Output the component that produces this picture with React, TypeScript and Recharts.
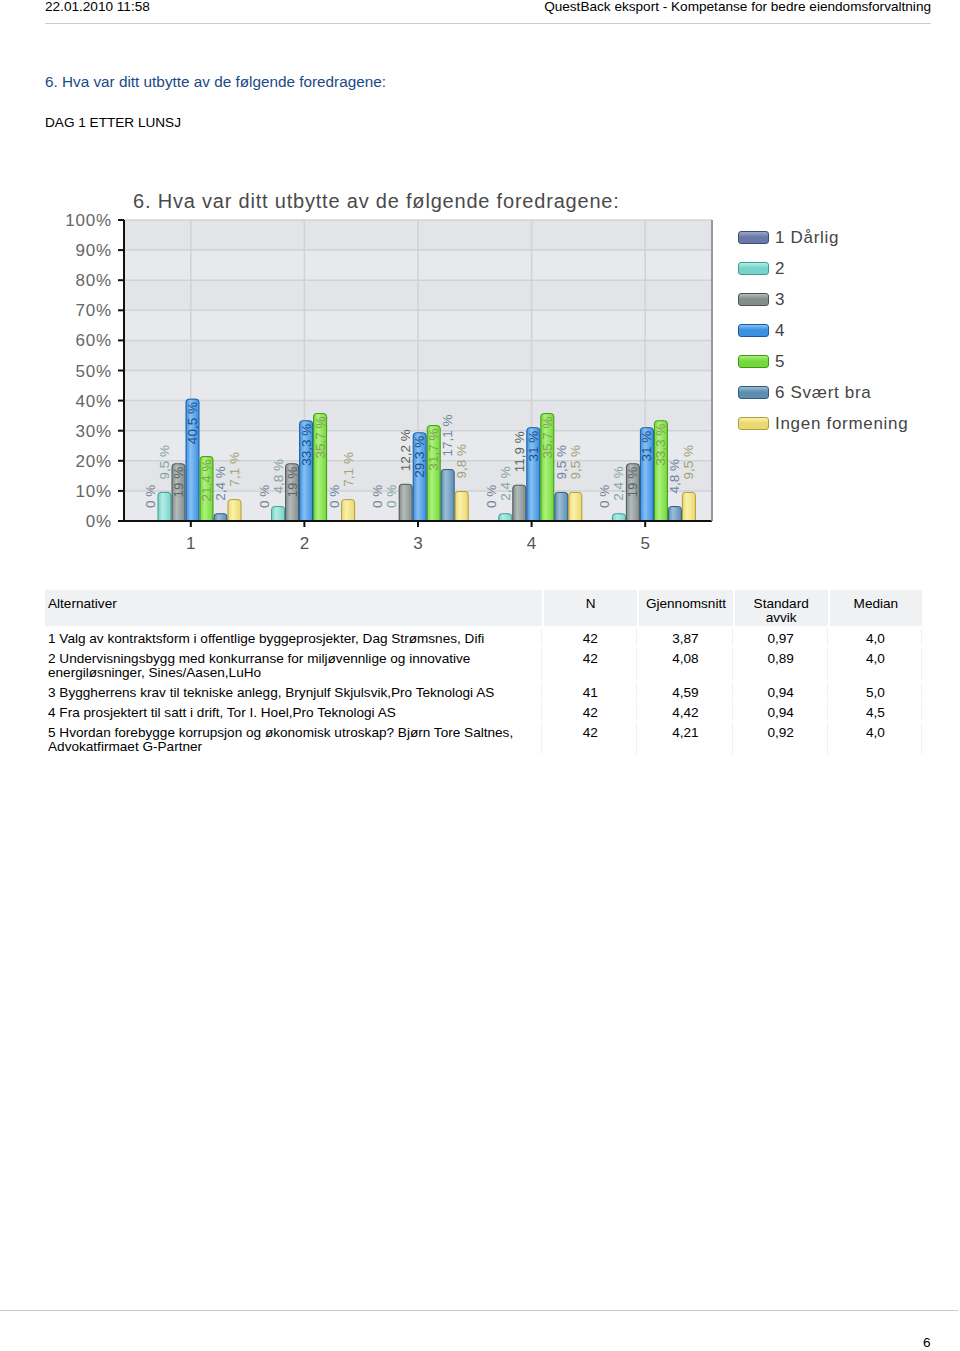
import React from 'react';
import { BarChart, Bar, XAxis, YAxis, CartesianGrid, Legend, LabelList, Rectangle } from 'recharts';

const categories = ['1', '2', '3', '4', '5'];
const seriesNames = ['1 Dårlig', '2', '3', '4', '5', '6 Svært bra', 'Ingen formening'];
const s1 = [0, 0, 0, 0, 0];
const s2 = [9.5, 4.8, 0, 2.4, 2.4];
const s3 = [19, 19, 12.2, 11.9, 19];
const s4 = [40.5, 33.3, 29.3, 31, 31];
const s5 = [21.4, 35.7, 31.7, 35.7, 33.3];
const s6 = [2.4, 0, 17.1, 9.5, 4.8];
const s7 = [7.1, 7.1, 9.8, 9.5, 9.5];
const seriesValues = [s1, s2, s3, s4, s5, s6, s7];
const yTicks = [0, 10, 20, 30, 40, 50, 60, 70, 80, 90, 100];

const altTexts = [
  '1 Valg av kontraktsform i offentlige byggeprosjekter, Dag Strømsnes, Difi',
  '2 Undervisningsbygg med konkurranse for miljøvennlige og innovative\nenergiløsninger, Sines/Aasen,LuHo',
  '3 Byggherrens krav til tekniske anlegg, Brynjulf Skjulsvik,Pro Teknologi AS',
  '4 Fra prosjektert til satt i drift, Tor I. Hoel,Pro Teknologi AS',
  '5 Hvordan forebygge korrupsjon og økonomisk utroskap? Bjørn Tore Saltnes,\nAdvokatfirmaet G-Partner',
];
const nVals = ['42', '42', '41', '42', '42'];
const meanVals = ['3,87', '4,08', '4,59', '4,42', '4,21'];
const sdVals = ['0,97', '0,89', '0,94', '0,94', '0,92'];
const medianVals = ['4,0', '4,0', '5,0', '4,5', '4,0'];

const baseColors = ['#6a79a8', '#78d4ca', '#838d8b', '#3b90e0', '#74d83c', '#5f8db0', '#ecd872'];
const lightColors = ['#9aa6cc', '#b2ece6', '#b4bcba', '#86c0f4', '#acf27a', '#9abed8', '#faf0aa'];
const strokeColors = ['#3f4b72', '#3a9c92', '#4c5452', '#1b5aa6', '#3c9a12', '#2f5b7d', '#b29c32'];
const labelColors = ['#7a8094', '#84a3a1', '#5a6462', '#1e4f88', '#82a05a', '#6a86a0', '#a3a17a'];

const keys = ['s1', 's2', 's3', 's4', 's5', 's6', 's7'];
const data = categories.map((c, i) => {
  const row: any = { name: c };
  keys.forEach((k, j) => {
    row[k] = seriesValues[j][i];
  });
  return row;
});

const FONT = '"Liberation Sans", Arial, Helvetica, sans-serif';

const fmt = (v: number) => {
  const s = Number.isInteger(v) ? String(v) : v.toFixed(1);
  return s.replace('.', ',') + ' %';
};

const makeLabel = (si: number) => (props: any) => {
  const { x, y, width, height, value } = props;
  const v = Number(value);
  const text = fmt(v);
  const L = text.length * 7;
  const cx = Number(x) + Number(width) / 2;
  const h = v === 0 ? 0 : Number(height);
  const inside = h > 1.5 * L;
  const yBase = v === 0 ? Number(y) + Number(height) : Number(y);
  const y0 = inside ? yBase + 3 : yBase - 13;
  return (
    <text
      x={cx}
      y={y0}
      transform={`rotate(-90, ${cx}, ${y0})`}
      textAnchor={inside ? 'end' : 'start'}
      dominantBaseline="central"
      fontSize={13.5}
      fontFamily={FONT}
      fill={labelColors[si]}
    >
      {text}
    </text>
  );
};

const makeShape = (k: string) => (props: any) => {
  if (!props.payload || props.payload[k] === 0) return <g />;
  return <Rectangle {...props} />;
};

const renderLegend = () => (
  <div style={{ fontFamily: FONT }}>
    {seriesNames.map((n, i) => (
      <div key={n} style={{ display: 'flex', alignItems: 'center', height: 31 }}>
        <div
          style={{
            width: 29,
            height: 11,
            borderRadius: 3,
            border: `1px solid ${strokeColors[i]}`,
            background: `linear-gradient(to bottom, ${lightColors[i]}, ${baseColors[i]} 45%, ${baseColors[i]})`,
            marginRight: 6,
          }}
        />
        <span style={{ fontSize: 17, letterSpacing: 0.7, color: '#454545' }}>{n}</span>
      </div>
    ))}
  </div>
);

export default function App() {
  const th: React.CSSProperties = {
    background: '#eff1f3',
    fontWeight: 'normal',
    verticalAlign: 'top',
    padding: '7px 3px 0 3px',
    height: 29,
    lineHeight: '14px',
    textAlign: 'center',
  };
  const td: React.CSSProperties = {
    verticalAlign: 'top',
    padding: '4px 3px 0 3px',
    lineHeight: '14px',
    textAlign: 'center',
    borderRight: '1px solid #f0f1f2',
  };
  return (
    <div style={{ position: 'absolute', left: 0, top: 0, width: 960, height: 1351, background: '#fff', fontFamily: FONT, color: '#000' }}>
      <div style={{ position: 'absolute', left: 45, top: -1, fontSize: 13.6 }}>22.01.2010 11:58</div>
      <div style={{ position: 'absolute', right: 29, top: -1, fontSize: 13.6 }}>QuestBack eksport - Kompetanse for bedre eiendomsforvaltning</div>
      <div style={{ position: 'absolute', left: 45, top: 23, width: 886, height: 1, background: '#cccccc' }} />
      <div style={{ position: 'absolute', left: 45, top: 73, fontSize: 15.3, color: '#1b4a86' }}>6. Hva var ditt utbytte av de følgende foredragene:</div>
      <div style={{ position: 'absolute', left: 45, top: 115, fontSize: 13.6 }}>DAG 1 ETTER LUNSJ</div>

      <div style={{ position: 'absolute', left: 133, top: 190, fontSize: 20, letterSpacing: 0.8, color: '#4a4a4a', whiteSpace: 'nowrap' }}>
        6. Hva var ditt utbytte av de følgende foredragene:
      </div>

      <div style={{ position: 'absolute', left: 0, top: 0 }}>
        <BarChart
          width={960}
          height={570}
          data={data}
          margin={{ top: 220, right: 247, left: 64, bottom: 19 }}
          barCategoryGap={10}
          barGap={1}
        >
          <defs>
            {baseColors.map((c, i) => (
              <linearGradient key={i} id={`g${i}`} x1="0" y1="0" x2="1" y2="0">
                <stop offset="0%" stopColor={baseColors[i]} />
                <stop offset="35%" stopColor={lightColors[i]} />
                <stop offset="100%" stopColor={baseColors[i]} />
              </linearGradient>
            ))}
          </defs>
          <CartesianGrid stroke="#cfd2d6" strokeWidth={1.5} fill="#e5e7ea" horizontalFill={['#e2e4e7', '#e7e9ec']} />
          <XAxis
            dataKey="name"
            padding={{ left: 10, right: 10 }}
            height={30}
            axisLine={{ stroke: '#111', strokeWidth: 2 }}
            tickLine={{ stroke: '#111', strokeWidth: 2 }}
            tickSize={6}
            tickMargin={10}
            tick={{ fontSize: 17, fill: '#555', fontFamily: FONT }}
          />
          <YAxis
            domain={[0, 100]}
            ticks={yTicks}
            width={60}
            interval={0}
            tickFormatter={(v: number) => `${v}%`}
            axisLine={{ stroke: '#111', strokeWidth: 2 }}
            tickLine={{ stroke: '#111', strokeWidth: 2 }}
            tickSize={6}
            tickMargin={6}
            tick={{ fontSize: 17, fill: '#666', fontFamily: FONT, letterSpacing: 0.8 }}
          />
          <YAxis yAxisId="r" orientation="right" width={1} domain={[0, 100]} tick={false} tickLine={false} axisLine={{ stroke: '#9a9a9a', strokeWidth: 2 }} />
          <Legend
            layout="vertical"
            align="center"
            verticalAlign="middle"
            content={renderLegend}
            wrapperStyle={{ left: 738, top: 222, width: 200, height: 220 }}
          />
          {keys.map((k, i) => (
            <Bar
              key={k}
              dataKey={k}
              name={seriesNames[i]}
              fill={`url(#g${i})`}
              stroke={strokeColors[i]}
              strokeWidth={1}
              radius={[3, 3, 0, 0]}
              minPointSize={1}
              shape={makeShape(k)}
              isAnimationActive={false}
            >
              <LabelList dataKey={k} content={makeLabel(i)} />
            </Bar>
          ))}
        </BarChart>
      </div>

      <table
        style={{
          position: 'absolute',
          left: 43,
          top: 588,
          width: 881,
          borderCollapse: 'separate',
          borderSpacing: 2,
          fontSize: 13.6,
          fontFamily: FONT,
          tableLayout: 'fixed',
        }}
      >
        <colgroup>
          <col style={{ width: 496 }} />
          <col style={{ width: 93 }} />
          <col style={{ width: 93 }} />
          <col style={{ width: 93 }} />
          <col style={{ width: 92 }} />
        </colgroup>
        <thead>
          <tr>
            <th style={{ ...th, textAlign: 'left' }}>Alternativer</th>
            <th style={th}>N</th>
            <th style={th}>Gjennomsnitt</th>
            <th style={th}>Standard<br />avvik</th>
            <th style={th}>Median</th>
          </tr>
        </thead>
        <tbody>
          {altTexts.map((t, i) => (
            <tr key={i}>
              <td style={{ ...td, textAlign: 'left', whiteSpace: 'pre-line' }}>{t}</td>
              <td style={td}>{nVals[i]}</td>
              <td style={td}>{meanVals[i]}</td>
              <td style={td}>{sdVals[i]}</td>
              <td style={td}>{medianVals[i]}</td>
            </tr>
          ))}
        </tbody>
      </table>

      <div style={{ position: 'absolute', left: 0, top: 1310, width: 958, height: 1, background: '#cccccc' }} />
      <div style={{ position: 'absolute', left: 923, top: 1335, fontSize: 13.6 }}>6</div>
    </div>
  );
}
